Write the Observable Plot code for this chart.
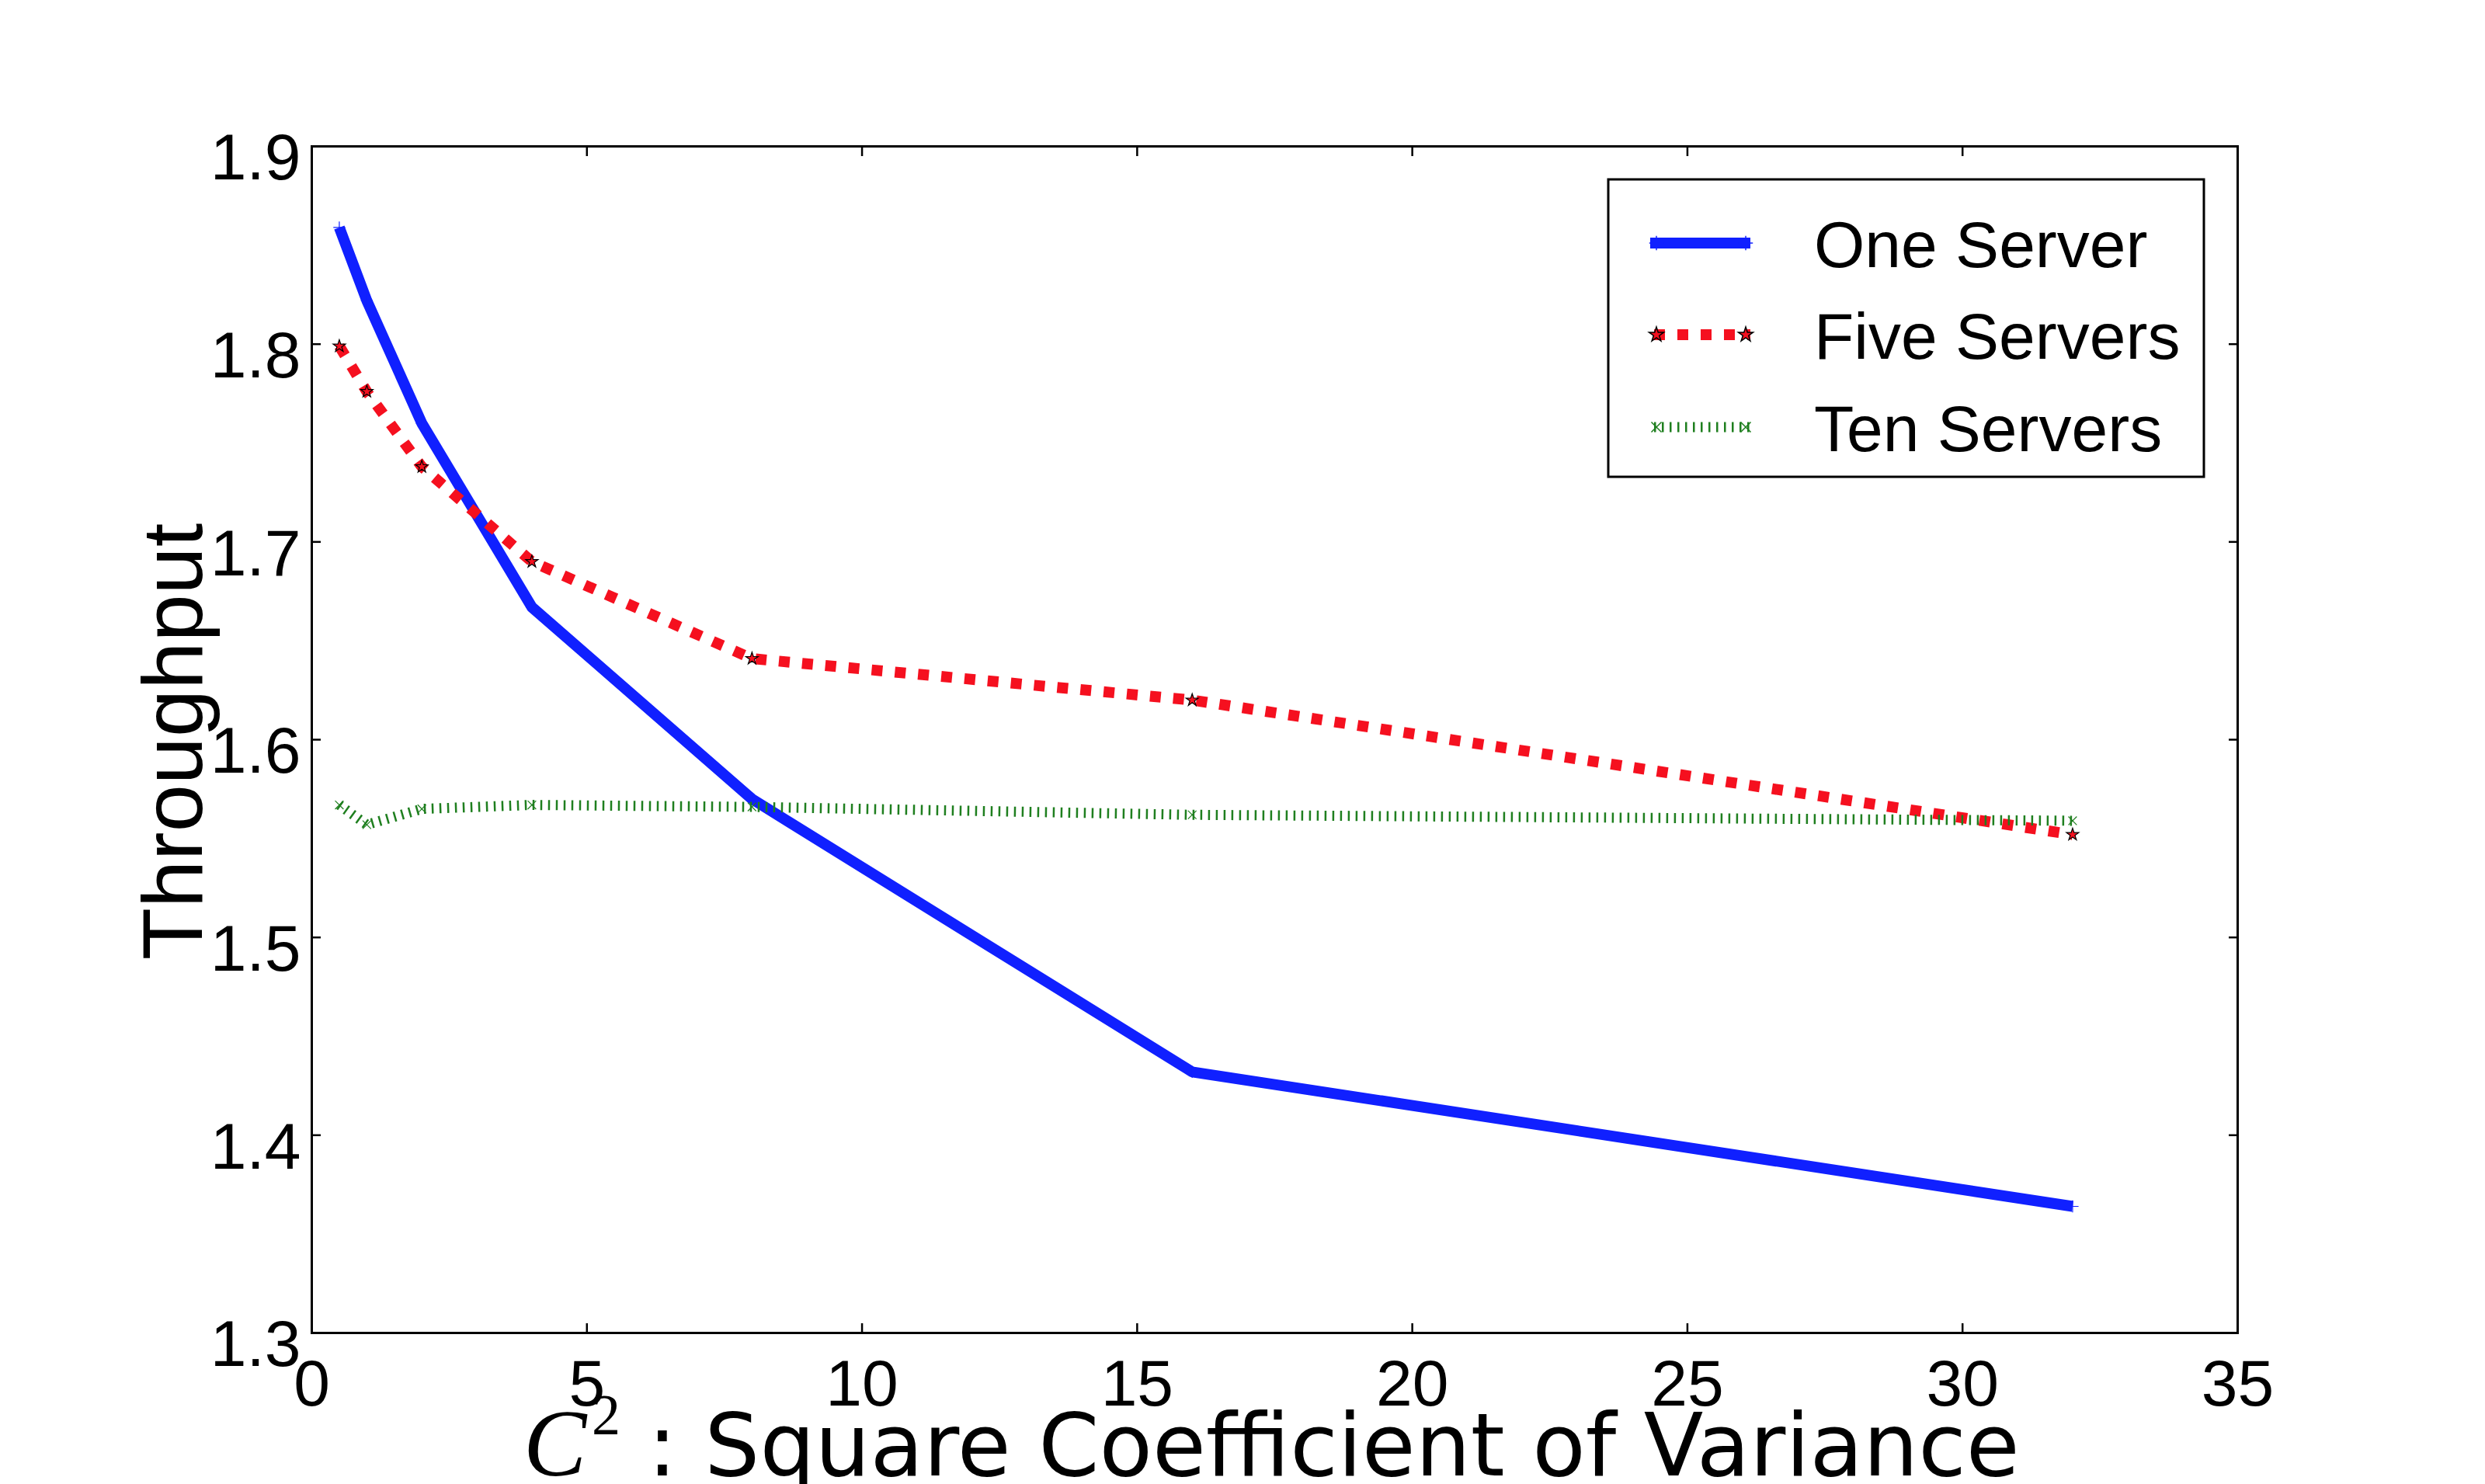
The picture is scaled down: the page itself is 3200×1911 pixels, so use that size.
<!DOCTYPE html>
<html><head><meta charset="utf-8">
<script src="https://cdn.jsdelivr.net/npm/d3@7"></script>
<script src="https://cdn.jsdelivr.net/npm/@observablehq/plot@0.6"></script>
<style>html,body{margin:0;padding:0;background:#fff;} svg{display:block}</style>
</head><body><div id="chart"></div>
<script>
const c2 = [0.5, 1, 2, 4, 8, 16, 32];
const oneServer = [1.859, 1.822, 1.760, 1.667, 1.570, 1.432, 1.364];
const fiveServers = [1.799, 1.776, 1.738, 1.690, 1.641, 1.620, 1.552];
const tenServers = [1.567, 1.557, 1.565, 1.567, 1.566, 1.562, 1.559];
const seriesNames = ["One Server", "Five Servers", "Ten Servers"];
const seriesColors = ["#1020ff", "#f5101f", "#1f7f1f"];
const xTicks = [0, 5, 10, 15, 20, 25, 30, 35];
const yTicks = [1.3, 1.4, 1.5, 1.6, 1.7, 1.8, 1.9];
const xLabelVar = "C";
const xLabelSup = "2";
const xLabelText = ": Square Coefficient of Variance";
const yLabel = "Throughput";

const toRows = (vals) => c2.map((x, i) => ({x, y: vals[i]}));
const one = toRows(oneServer), five = toRows(fiveServers), ten = toRows(tenServers);

const W = 3200, H = 1911;
const sans = "'Liberation Sans', Arial, Helvetica, sans-serif";

const chart = Plot.plot({
  width: W, height: H,
  marginLeft: 401, marginRight: 319, marginTop: 188, marginBottom: 195,
  x: {domain: [0, 35], label: null},
  y: {domain: [1.3, 1.9], label: null},
  style: {fontFamily: sans, fontSize: "84px", background: "white", color: "black"},
  marks: [
    Plot.line(one, {x: "x", y: "y", stroke: seriesColors[0], strokeWidth: 14, strokeLinejoin: "round", strokeLinecap: "butt"}),
    Plot.dot(one, {x: "x", y: "y", symbol: "plus", r: 5, stroke: seriesColors[0], strokeWidth: 1.2}),
    Plot.line(five, {x: "x", y: "y", stroke: seriesColors[1], strokeWidth: 14, strokeDasharray: "14,16", strokeLinecap: "butt", strokeLinejoin: "round"}),
    Plot.dot(five, {x: "x", y: "y", symbol: "star", r: 5, fill: seriesColors[1], stroke: "black", strokeWidth: 1.2}),
    Plot.line(ten, {x: "x", y: "y", stroke: seriesColors[2], strokeWidth: 13, strokeDasharray: "2.5,7.5", strokeLinecap: "butt"}),
    Plot.dot(ten, {x: "x", y: "y", symbol: "times", r: 5, stroke: seriesColors[2], strokeWidth: 1.2}),
    Plot.frame({stroke: "black", strokeWidth: 3}),
    Plot.axisX(xTicks, {anchor: "bottom", tickSize: 0, tickPadding: 34, fontSize: 84, label: null}),
    Plot.axisX(xTicks, {anchor: "bottom", tickSize: -12, strokeWidth: 2.5, fill: "none", label: null}),
    Plot.axisX(xTicks, {anchor: "top", tickSize: -12, strokeWidth: 2.5, fill: "none", label: null}),
    Plot.axisY(yTicks, {anchor: "left", tickSize: 0, tickPadding: 14, dy: 16, fontSize: 84, tickFormat: d => d.toFixed(1), label: null}),
    Plot.axisY(yTicks, {anchor: "left", tickSize: -12, strokeWidth: 2.5, fill: "none", label: null}),
    Plot.axisY(yTicks, {anchor: "right", tickSize: -12, strokeWidth: 2.5, fill: "none", label: null})
  ]
});

document.getElementById("chart").appendChild(chart);
const svg = d3.select(chart);

// y label
svg.append("text")
  .attr("transform", "translate(260,955) rotate(-90)")
  .attr("text-anchor", "middle")
  .attr("font-family", sans)
  .attr("font-size", 110)
  .attr("fill", "black")
  .text(yLabel);

// x label
const xl = svg.append("text").attr("fill", "black").attr("text-anchor", "start");
xl.append("tspan").attr("x", 674).attr("y", 1900).attr("text-anchor", "start")
  .attr("font-family", "'Liberation Serif', 'DejaVu Serif', serif")
  .attr("font-style", "italic").attr("font-size", 122).text(xLabelVar);
xl.append("tspan").attr("x", 762).attr("y", 1847).attr("text-anchor", "start")
  .attr("font-family", "'Liberation Serif', 'DejaVu Serif', serif")
  .attr("font-size", 74).text(xLabelSup);
xl.append("tspan").attr("x", 834).attr("y", 1900).attr("text-anchor", "start")
  .attr("font-family", "'DejaVu Sans', sans-serif")
  .attr("font-size", 112).text(xLabelText);

// legend
const lg = svg.append("g").attr("text-anchor", "start");
lg.append("rect").attr("x", 2071).attr("y", 231).attr("width", 767).attr("height", 383)
  .attr("fill", "white").attr("stroke", "black").attr("stroke-width", 3);
const rowsY = [344, 462, 581];
const lineX0 = 2125, lineX1 = 2254;
const styles = [
  {w: 14, dash: null, marker: d3.symbolPlus, fill: "none", mstroke: seriesColors[0]},
  {w: 14, dash: "14,16", marker: d3.symbolStar, fill: seriesColors[1], mstroke: "black"},
  {w: 13, dash: "2.5,7.5", marker: d3.symbolX, fill: "none", mstroke: seriesColors[2]}
];
seriesNames.forEach((name, i) => {
  const yc = rowsY[i] - 31;
  const st = styles[i];
  const p = lg.append("line").attr("x1", lineX0).attr("x2", lineX1).attr("y1", yc).attr("y2", yc)
    .attr("stroke", seriesColors[i]).attr("stroke-width", st.w).attr("stroke-linecap", "butt");
  if (st.dash) p.attr("stroke-dasharray", st.dash).attr("stroke-dashoffset", -5);
  [2133, 2248].forEach(mx => {
    lg.append("path").attr("transform", `translate(${mx},${yc})`)
      .attr("d", d3.symbol(st.marker, 6 * 6 * Math.PI)())
      .attr("fill", st.fill).attr("stroke", st.mstroke).attr("stroke-width", 1.5);
  });
  lg.append("text").attr("x", 2336).attr("y", rowsY[i]).attr("text-anchor", "start")
    .attr("font-family", sans).attr("font-size", 84).attr("fill", "black").text(name);
});
</script>
</body></html>
